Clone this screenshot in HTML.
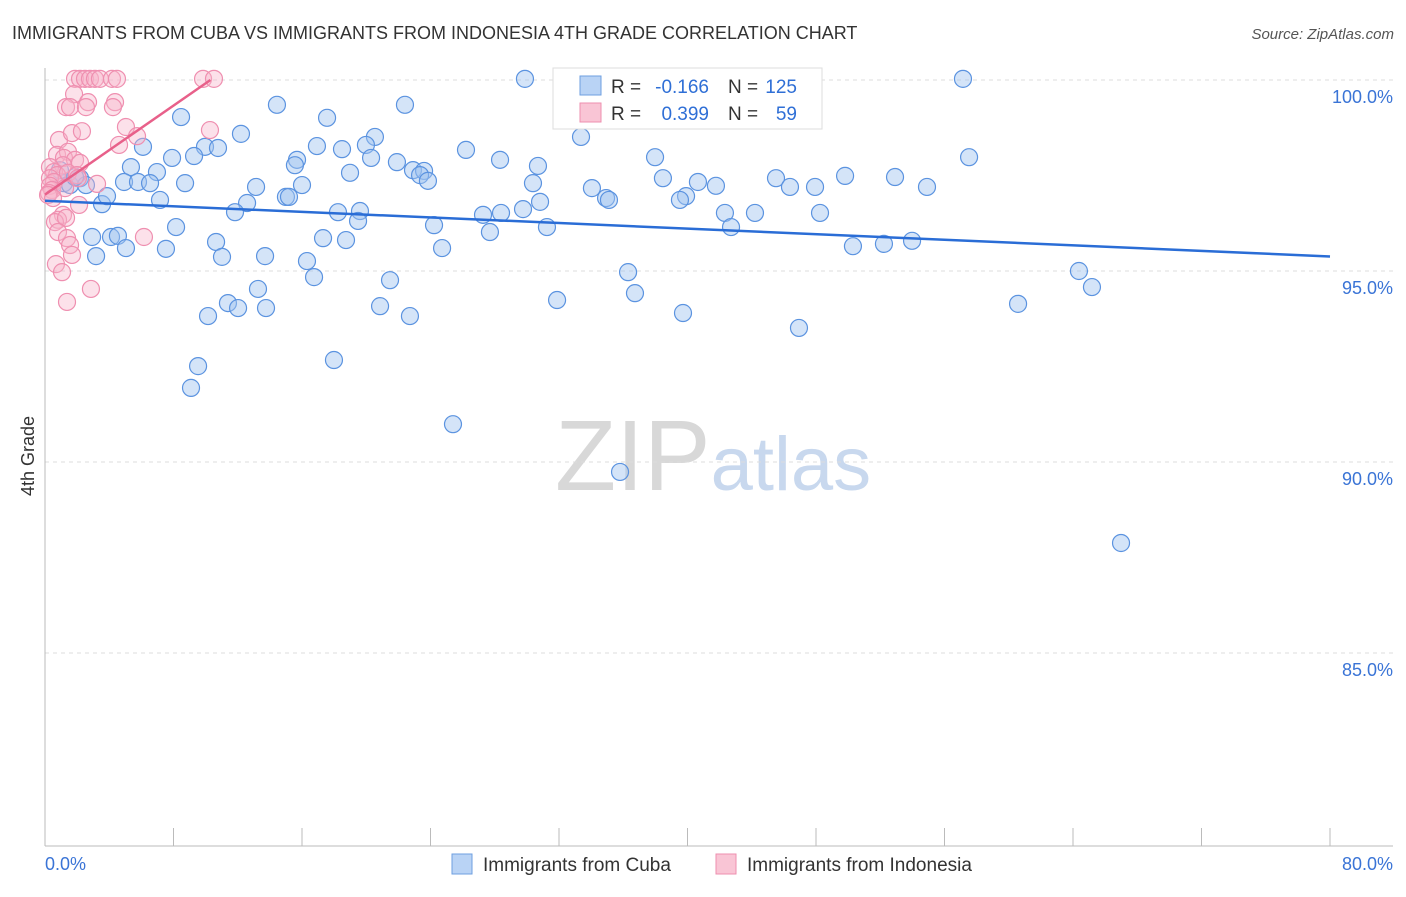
<!DOCTYPE html>
<html><head><meta charset="utf-8"><style>
body{margin:0;background:#fff;font-family:"Liberation Sans",sans-serif}
svg text{font-family:"Liberation Sans",sans-serif}
</style></head><body>
<svg id="chart" width="1406" height="892" viewBox="0 0 1406 892" xmlns="http://www.w3.org/2000/svg">
<text x="12" y="39" font-size="18" fill="#333">IMMIGRANTS FROM CUBA VS IMMIGRANTS FROM INDONESIA 4TH GRADE CORRELATION CHART</text>
<text x="1394" y="39" font-size="15" fill="#555" text-anchor="end" font-style="italic">Source: ZipAtlas.com</text>
<text x="555" y="490" font-size="100" fill="#ddd" font-family="Liberation Serif"><tspan fill="#d8d8d8">ZIP</tspan><tspan fill="#c8d8ee" font-family="Liberation Sans" font-size="76">atlas</tspan></text>
<text transform="translate(34,456) rotate(-90)" font-size="18" fill="#333" text-anchor="middle">4th Grade</text>
<g id="grid"></g><g id="axes"></g><g id="pts"></g><g id="lines"></g>
<g>
<rect x="553" y="68" width="269" height="61" fill="#fff" stroke="#ddd"/>
<rect x="580" y="76" width="21" height="19" fill="#b9d3f5" stroke="#6e9fe0"/>
<rect x="580" y="103" width="21" height="19" fill="#f9c5d5" stroke="#ee8faf"/>
<text x="611" y="93" font-size="19" fill="#333">R =</text>
<text x="709" y="93" font-size="19" fill="#2f6fd6" text-anchor="end">-0.166</text>
<text x="728" y="93" font-size="19" fill="#333">N =</text>
<text x="797" y="93" font-size="19" fill="#2f6fd6" text-anchor="end">125</text>
<text x="611" y="120" font-size="19" fill="#333">R =</text>
<text x="709" y="120" font-size="19" fill="#2f6fd6" text-anchor="end">0.399</text>
<text x="728" y="120" font-size="19" fill="#333">N =</text>
<text x="797" y="120" font-size="19" fill="#2f6fd6" text-anchor="end">59</text>
</g>
<g>
<rect x="452" y="854" width="20" height="20" fill="#b9d3f5" stroke="#6e9fe0"/>
<text x="483" y="871" font-size="19" fill="#333">Immigrants from Cuba</text>
<rect x="716" y="854" width="20" height="20" fill="#f9c5d5" stroke="#ee8faf"/>
<text x="747" y="871" font-size="19" fill="#333">Immigrants from Indonesia</text>
</g>
</svg>
<script>
const yTicks=[100,95,90,85];
const xTickLabels=["0.0%","80.0%"];
const cubaX=[],cubaY=[],indoX=[],indoY=[];
const cubaPx=[[525,79],[963,79],[277,105],[405,105],[181,117],[327,118],[241,134],[375,137],[581,137],[143,147],[205,147],[218,148],[317,146],[342,149],[366,145],[466,150],[655,157],[969,157],[172,158],[194,156],[297,160],[295,165],[371,158],[397,162],[500,160],[538,166],[131,167],[157,172],[413,170],[424,171],[350,173],[420,175],[428,181],[663,178],[698,182],[776,178],[845,176],[895,177],[124,182],[138,182],[150,183],[185,183],[256,187],[302,185],[533,183],[592,188],[606,198],[609,200],[686,196],[716,186],[790,187],[815,187],[927,187],[286,197],[289,197],[540,202],[680,200],[102,204],[160,200],[107,196],[247,203],[235,212],[338,212],[360,211],[358,221],[483,215],[501,213],[523,209],[725,213],[755,213],[820,213],[434,225],[547,227],[731,227],[176,227],[490,232],[92,237],[111,237],[118,236],[126,248],[166,249],[216,242],[323,238],[346,240],[442,248],[853,246],[884,244],[912,241],[96,256],[222,257],[265,256],[307,261],[314,277],[628,272],[1079,271],[1092,287],[258,289],[390,280],[635,293],[557,300],[228,303],[238,308],[266,308],[380,306],[410,316],[208,316],[683,313],[1018,304],[799,328],[334,360],[198,366],[191,388],[453,424],[620,472],[1121,543],[64,183],[70,185],[80,178],[86,185],[60,170],[75,177]];
const indoPx=[[75,79],[80,79],[85,79],[90,79],[95,79],[100,79],[112,79],[117,79],[203,79],[214,79],[74,94],[88,102],[66,107],[70,107],[86,107],[115,102],[113,107],[126,127],[137,136],[59,140],[72,133],[82,131],[119,145],[210,130],[57,155],[68,152],[64,158],[75,160],[80,163],[63,165],[50,167],[54,172],[57,175],[50,178],[54,182],[50,186],[52,190],[49,193],[68,173],[77,175],[97,184],[65,188],[48,195],[79,205],[63,215],[58,220],[55,222],[66,218],[58,232],[67,238],[70,245],[72,255],[56,264],[62,272],[144,237],[91,289],[67,302],[78,178],[53,198]];
cubaPx.forEach(p=>{cubaX.push(+((p[0]-45)/1285*80).toFixed(2));cubaY.push(+(100-(p[1]-80)/38.2).toFixed(2));});
indoPx.forEach(p=>{indoX.push(+((p[0]-45)/1285*80).toFixed(2));indoY.push(+(100-(p[1]-80)/38.2).toFixed(2));});
const cubaTrend=[0,96.84,80,95.38];
const indoTrend=[0,97.0,10.3,100];
const NS="http://www.w3.org/2000/svg";
const sx=v=>45+v/80*1285, sy=v=>80+(100-v)*38.2;
function mk(t,a,parent){const e=document.createElementNS(NS,t);for(const k in a)e.setAttribute(k,a[k]);document.getElementById(parent).appendChild(e);return e;}
yTicks.forEach(t=>{
 const l=mk('line',{x1:45,x2:1393,y1:sy(t),y2:sy(t),stroke:'#ddd','stroke-dasharray':'4,4'},'grid');
 
 
 const tx=mk('text',{x:1393,y:sy(t)+23,'font-size':18,fill:'#3a74d6','text-anchor':'end'},'grid');
 tx.textContent=t.toFixed(1)+'%';
 
 
});
const ax=mk('line',{x1:45,x2:45,y1:68,y2:846,stroke:'#bbb'},'axes');


const bx=mk('line',{x1:45,x2:1393,y1:846,y2:846,stroke:'#bbb'},'axes');


for(let i=0;i<=10;i++){const t=mk('line',{x1:sx(i*8),x2:sx(i*8),y1:828,y2:846,stroke:'#bbb'},'axes');
 
 }
[[0,45,'start'],[80,1393,'end']].forEach((d,i)=>{const t=mk('text',{x:d[1],y:870,'font-size':18,fill:'#3a74d6','text-anchor':d[2]},'axes');t.textContent=xTickLabels[i];
 
 });
cubaX.forEach((x,i)=>{const c=mk('circle',{cx:sx(x),cy:sy(cubaY[i]),r:8.5,fill:'rgba(160,196,240,0.45)',stroke:'#5b93e0','stroke-width':1.2},'pts');
 
 });
indoX.forEach((x,i)=>{const c=mk('circle',{cx:sx(x),cy:sy(indoY[i]),r:8.5,fill:'rgba(248,180,202,0.4)',stroke:'#ef8fb0','stroke-width':1.2},'pts');
 
 });
const l1=mk('line',{x1:sx(cubaTrend[0]),y1:sy(cubaTrend[1]),x2:sx(cubaTrend[2]),y2:sy(cubaTrend[3]),stroke:'#2a6dd6','stroke-width':2.5},'lines');


const l2=mk('line',{x1:sx(indoTrend[0]),y1:sy(indoTrend[1]),x2:sx(indoTrend[2]),y2:sy(indoTrend[3]),stroke:'#e8608a','stroke-width':2.5},'lines');


</script>
</body></html>
